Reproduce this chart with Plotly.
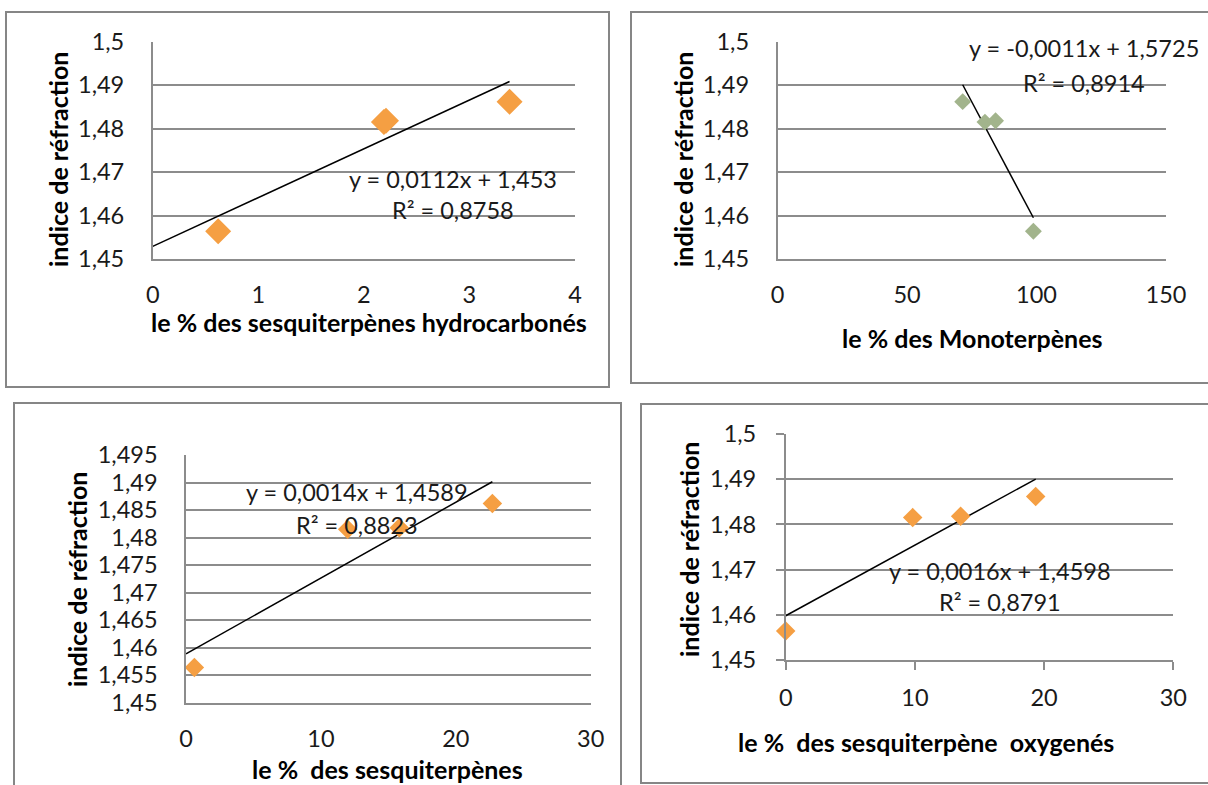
import numpy as np
import plotly.graph_objects as go

W, H = 1208, 785

# Refractive index of the four essential-oil samples
indice = [1.4564, 1.4815, 1.4818, 1.4862]

# Composition of the same samples (%)
sesq_hydrocarbones = [0.62, 2.19, 2.21, 3.38]
monoterpenes = [98.8, 80.1, 84.2, 71.5]
sesquiterpenes = [0.62, 11.98, 15.81, 22.71]
sesq_oxygenes = [0.0, 9.83, 13.54, 19.35]

equations = ["y = 0,0112x + 1,453", "y = -0,0011x + 1,5725",
             "y = 0,0014x + 1,4589", "y = 0,0016x + 1,4598"]
r2_labels = ["R² = 0,8758", "R² = 0,8914", "R² = 0,8823", "R² = 0,8791"]

x_titles = ["le % des sesquiterpènes hydrocarbonés",
            "le % des Monoterpènes",
            "le %  des sesquiterpènes",
            "le %  des sesquiterpène  oxygenés"]
y_title = "indice de réfraction"

x_ticks_hydro = [0, 1, 2, 3, 4]
x_ticks_mono = [0, 50, 100, 150]
x_ticks_sesq = [0, 10, 20, 30]
x_ticks_oxy = [0, 10, 20, 30]

y_ticks_coarse = [1.45, 1.46, 1.47, 1.48, 1.49, 1.5]
y_labels_coarse = ["1,45", "1,46", "1,47", "1,48", "1,49", "1,5"]
y_ticks_fine = [1.45, 1.455, 1.46, 1.465, 1.47, 1.475, 1.48, 1.485, 1.49, 1.495]
y_labels_fine = ["1,45", "1,455", "1,46", "1,465", "1,47", "1,475",
                 "1,48", "1,485", "1,49", "1,495"]

ORANGE = "#F59F43"
GREEN = "#A2B48C"
GRID = "#8C8C8C"
FRAME = "#868686"
FONT = "Lato"
TICK_SIZE = 23.5
TITLE_SIZE = 25

panels = [
    dict(x=sesq_hydrocarbones, xticks=x_ticks_hydro, yticks=y_ticks_coarse,
         ylabels=y_labels_coarse, color=ORANGE, msize=20, backcast=True,
         frame=(6, 12, 609, 387), plot=(152.7, 41.7, 575, 259),
         ticks=False, eq=(453, 179, 210),
         xt=(369, 322), yt=(58, 160)),
    dict(x=monoterpenes, xticks=x_ticks_mono, yticks=y_ticks_coarse,
         ylabels=y_labels_coarse, color=GREEN, msize=13, backcast=False,
         frame=(631, 12, 1212, 383), plot=(777.5, 41.7, 1166, 259),
         ticks=False, eq=(1084, 48, 83),
         xt=(972, 338), yt=(683, 160)),
    dict(x=sesquiterpenes, xticks=x_ticks_sesq, yticks=y_ticks_fine,
         ylabels=y_labels_fine, color=ORANGE, msize=15, backcast=True,
         frame=(14, 403, 621, 790), plot=(186, 455, 590.7, 702.7),
         ticks=False, eq=(357, 492, 525),
         xt=(387, 769), yt=(77, 580)),
    dict(x=sesq_oxygenes, xticks=x_ticks_oxy, yticks=y_ticks_coarse,
         ylabels=y_labels_coarse, color=ORANGE, msize=15, backcast=True,
         frame=(641, 404, 1212, 783), plot=(785.7, 434, 1173.3, 660),
         ticks=True, eq=(1000, 571, 602),
         xt=(926, 742), yt=(689, 550)),
]


def px(xp):
    return xp / W


def py(yp):
    return 1 - yp / H


fig = go.Figure()
shapes = []
annotations = []
layout = {}

for i, p in enumerate(panels, start=1):
    sfx = "" if i == 1 else str(i)
    xa, ya = "x" + sfx, "y" + sfx

    # least-squares trendline through the samples
    slope, intercept = np.polyfit(p["x"], indice, 1)
    x0 = 0.0 if p["backcast"] else min(p["x"])
    x1 = max(p["x"])
    fig.add_trace(go.Scatter(
        x=[x0, x1], y=[slope * x0 + intercept, slope * x1 + intercept],
        mode="lines", line=dict(color="black", width=1.5),
        xaxis=xa, yaxis=ya, showlegend=False, hoverinfo="skip"))
    fig.add_trace(go.Scatter(
        x=p["x"], y=indice, mode="markers",
        marker=dict(symbol="diamond", size=p["msize"], color=p["color"],
                    line=dict(width=0)),
        xaxis=xa, yaxis=ya, showlegend=False, cliponaxis=False))

    l, t, r, b = p["plot"]
    tick_kw = dict(ticks="outside", ticklen=8, tickwidth=1.5, tickcolor=GRID) \
        if p["ticks"] else dict(ticks="")
    layout["xaxis" + sfx] = dict(
        domain=[px(l), px(r)], range=[p["xticks"][0], p["xticks"][-1]],
        anchor=ya, tickvals=p["xticks"], ticktext=[str(v) for v in p["xticks"]],
        showgrid=False, zeroline=False, showline=True, linecolor=GRID,
        linewidth=1.5, automargin=False,
        tickfont=dict(family=FONT, size=TICK_SIZE, color="#1a1a1a"),
        ticklabelstandoff=8 if p["ticks"] else 14, **tick_kw)
    layout["yaxis" + sfx] = dict(
        domain=[py(b), py(t)], range=[p["yticks"][0], p["yticks"][-1]],
        anchor=xa, tickvals=p["yticks"], ticktext=p["ylabels"],
        showgrid=True, gridcolor=GRID, gridwidth=1.5, zeroline=False,
        showline=True, linecolor=GRID, linewidth=1.5, automargin=False,
        tickfont=dict(family=FONT, size=TICK_SIZE, color="#1a1a1a"),
        ticklabelstandoff=15 if p["ticks"] else 22, **tick_kw)

    fl, ft, fr, fb = p["frame"]
    shapes.append(dict(type="rect", xref="paper", yref="paper",
                       x0=px(fl), x1=px(fr), y0=py(fb), y1=py(ft),
                       line=dict(color=FRAME, width=2), layer="below"))

    ex, ey1, ey2 = p["eq"]
    for txt, yy in ((equations[i - 1], ey1), (r2_labels[i - 1], ey2)):
        annotations.append(dict(text=txt, x=px(ex), y=py(yy),
                                xref="paper", yref="paper", showarrow=False,
                                xanchor="center", yanchor="middle",
                                font=dict(family=FONT, size=TICK_SIZE, color="#1a1a1a")))
    xtx, xty = p["xt"]
    annotations.append(dict(text="<b>" + x_titles[i - 1] + "</b>",
                            x=px(xtx), y=py(xty), xref="paper", yref="paper",
                            showarrow=False, xanchor="center", yanchor="middle",
                            font=dict(family=FONT, size=TITLE_SIZE, color="#000")))
    ytx, yty = p["yt"]
    annotations.append(dict(text="<b>" + y_title + "</b>", textangle=-90,
                            x=px(ytx), y=py(yty), xref="paper", yref="paper",
                            showarrow=False, xanchor="center", yanchor="middle",
                            font=dict(family=FONT, size=TITLE_SIZE, color="#000")))

fig.update_layout(
    width=W, height=H,
    margin=dict(l=0, r=0, t=0, b=0, pad=0, autoexpand=False),
    paper_bgcolor="white", plot_bgcolor="white",
    shapes=shapes, annotations=annotations, **layout)

# page body without default margin so the figure fills the window exactly
fig.write_html("out.html",
               post_script="document.body.style.margin='0';"
                           "document.body.style.overflow='hidden';")
